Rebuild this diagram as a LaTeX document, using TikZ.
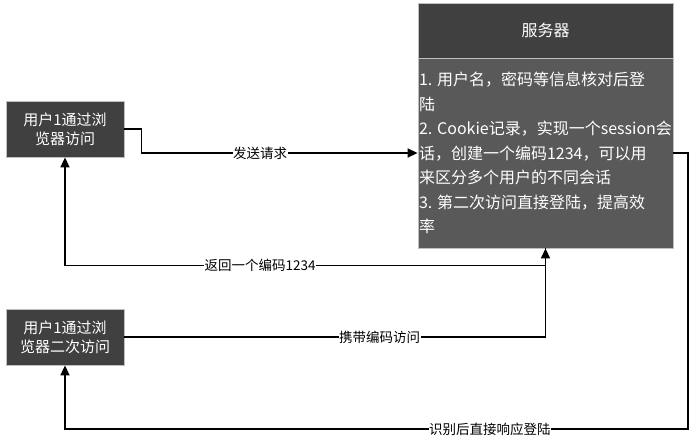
\documentclass[tikz,border=0pt]{standalone}
\usepackage{fontspec}
\newfontfamily\cjk{Noto Sans CJK SC}
\usetikzlibrary{arrows.meta}
\definecolor{boxdark}{HTML}{404040}
\definecolor{boxbody}{HTML}{595959}
\definecolor{boxline}{HTML}{BFBFBF}

\begin{document}
\begin{tikzpicture}[x=1pt,y=-1pt,thick,line width=1.4pt,>={Triangle[length=10pt,width=9pt]},
	userbox/.style ={rectangle, fill=boxdark, draw=boxline, line width=0.8pt, text=white, align=center,
		minimum width=118pt, minimum height=56pt, inner sep=2pt, font=\cjk\fontsize{15}{19}\selectfont},
	headbox/.style ={rectangle, fill=boxdark, draw=boxline, line width=0.8pt, text=white,
		minimum width=255pt, minimum height=55pt, font=\cjk\fontsize{16}{20}\selectfont},
	bodybox/.style ={rectangle, fill=boxbody, draw=boxline, line width=0.8pt, text=white,
		minimum width=255pt, minimum height=190pt},
	lbl/.style ={fill=white, inner sep=0.5pt, font=\cjk\fontsize{13.5}{16}\selectfont}]
		\useasboundingbox (0,0) rectangle (692,437);
		\node[userbox] (u1) at (65,129) {用户1通过浏\\览器访问};
		\node[userbox] (u2) at (65,337) {用户1通过浏\\览器二次访问};
		\node[headbox] (hd) at (545.5,30.5) {服务器};
		\node[bodybox] (bd) at (545.5,153) {};
		\node[text=white, align=left, font=\cjk\fontsize{16}{24.5}\selectfont] (txt) at (bd.center)
			{1. 用户名，密码等信息核对后登\\陆\\2. Cookie记录，实现一个session会\\话，创建一个编码1234，可以用\\来区分多个用户的不同会话\\3. 第二次访问直接登陆，提高效\\率};
		\coordinate (c1) at (688,429);
		\draw[->] (u1.east) -- ++(17,0) |- (bd.west) node[lbl,pos=0.715] {发送请求};
		\draw[->] (bd.south) -- ++(0,17) -| (u1.south) node[lbl,pos=0.297] {返回一个编码1234};
		\draw[->] (u2.east) -| (bd.south) node[lbl,pos=0.303] {携带编码访问};
		\draw[->] (bd.east) -| (c1) -| (u2.south) node[lbl,pos=0.159] {识别后直接响应登陆};
	\end{tikzpicture}
\end{document}
